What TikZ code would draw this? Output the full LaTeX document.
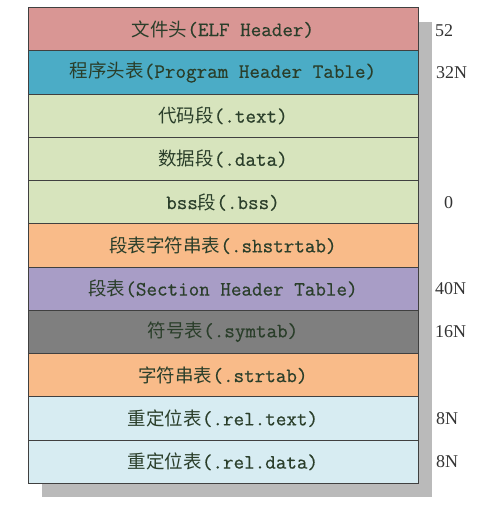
\documentclass[tikz,border=0pt]{standalone}
\usepackage{fontspec}
\setmainfont{Liberation Serif}
\newfontfamily\cjk{Noto Sans CJK SC}
\newfontfamily\segmono{Latin Modern Mono}[FakeBold=0.6]
\usepackage{tikz}
\usetikzlibrary{positioning}
\definecolor{elfred}{RGB}{217,150,148}
\definecolor{phblue}{RGB}{75,172,198}
\definecolor{secgreen}{RGB}{215,228,189}
\definecolor{strorange}{RGB}{249,187,137}
\definecolor{shpurple}{RGB}{168,157,198}
\definecolor{symgray}{RGB}{127,127,127}
\definecolor{relblue}{RGB}{215,236,242}
\definecolor{segtext}{RGB}{42,62,42}
\newcommand\zh[1]{{\cjk\fontsize{18.5}{20}\selectfont #1}}
\tikzstyle{seg} = [draw=black!75, line width=.7pt, minimum width=390pt, minimum height=43.25pt, inner sep=0pt, outer sep=0pt, text=segtext, font=\segmono\fontsize{20.5}{22}\selectfont]
\tikzstyle{size} = [inner sep=0pt, text=black!80, font=\fontsize{18}{20}\selectfont]

\begin{document}
\begin{tikzpicture}[x=1pt,y=1pt,node distance=0pt]
\useasboundingbox (0,0) rectangle (487,-510);
% shadow behind the table
\fill[black!27] (42,-22) rectangle (432,-496.7);
\node[seg, fill=elfred, anchor=north west] (elfhdr) at (28,-7.5) {\zh{文件头}(ELF Header)};
\node[seg, fill=phblue, below=of elfhdr] (phdr) {\zh{程序头表}(Program Header Table)};
\node[seg, fill=secgreen, below=of phdr] (text) {\zh{代码段}(.text)};
\node[seg, fill=secgreen, below=of text] (data) {\zh{数据段}(.data)};
\node[seg, fill=secgreen, below=of data] (bss) {bss\zh{段}(.bss)};
\node[seg, fill=strorange, below=of bss] (shstrtab) {\zh{段表字符串表}(.shstrtab)};
\node[seg, fill=shpurple, below=of shstrtab] (shdr) {\zh{段表}(Section Header Table)};
\node[seg, fill=symgray, below=of shdr] (symtab) {\zh{符号表}(.symtab)};
\node[seg, fill=strorange, below=of symtab] (strtab) {\zh{字符串表}(.strtab)};
\node[seg, fill=relblue, below=of strtab] (reltext) {\zh{重定位表}(.rel.text)};
\node[seg, fill=relblue, below=of reltext] (reldata) {\zh{重定位表}(.rel.data)};
% sizes on the right
\node[size, right=17pt of elfhdr, yshift=-2pt] (szelf) {52};
\node[size, right=18pt of phdr] (szph) {32N};
\node[size, right=26pt of bss] (szbss) {0};
\node[size, right=17pt of shdr] (szsh) {40N};
\node[size, right=17pt of symtab] (szsym) {16N};
\node[size, right=18pt of reltext] (szreltext) {8N};
\node[size, right=18pt of reldata] (szreldata) {8N};
\end{tikzpicture}
\end{document}
